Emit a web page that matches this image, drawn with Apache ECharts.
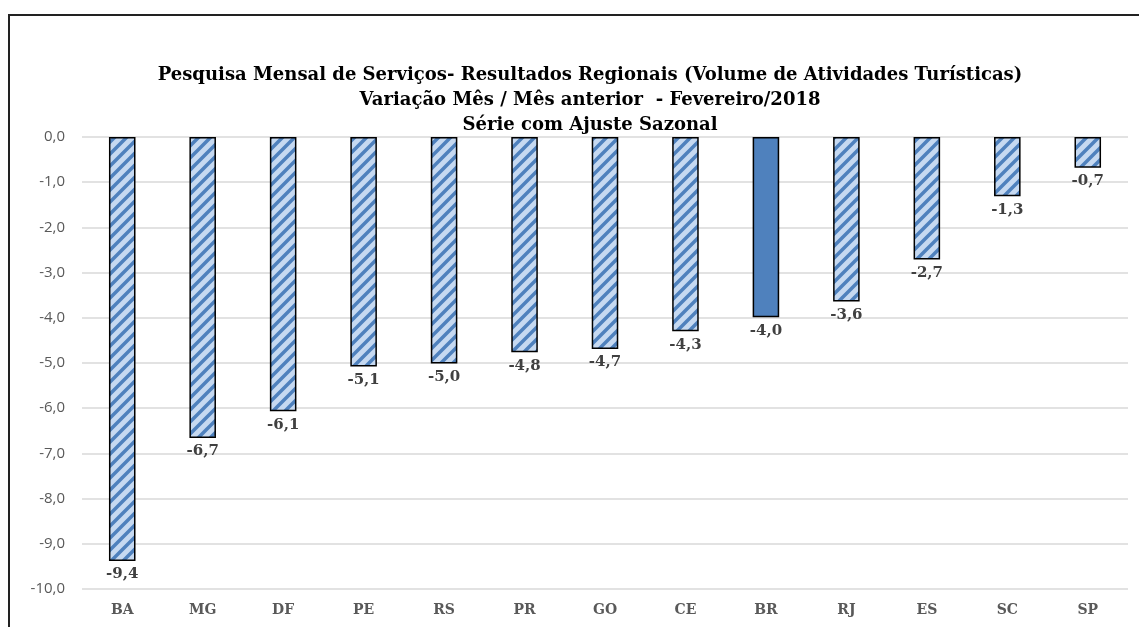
<!DOCTYPE html>
<html>
<head>
    <meta charset="utf-8">
    <title>PMS Regional</title>
    <script src="https://cdn.jsdelivr.net/npm/echarts@6/dist/echarts.min.js"></script>
    <style>
        html, body { margin: 0; padding: 0; background: #fff; }
        #container { width: 1139px; height: 627px; }
    </style>
</head>
<body>
<div id="container"></div>
<script>
    var categories = ["BA", "MG", "DF", "PE", "RS", "PR", "GO", "CE", "BR", "RJ", "ES", "SC", "SP"];
    var values = [-9.38, -6.66, -6.07, -5.08, -5.01, -4.76, -4.69, -4.30, -3.99, -3.64, -2.71, -1.31, -0.68];
    var yTicks = [0, -1, -2, -3, -4, -5, -6, -7, -8, -9, -10];
    var highlight = "BR";

    // striped fill like the excel "wide upward diagonal" pattern
    function stripes() {
        var s = 12;
        var c = document.createElement("canvas");
        c.width = s;
        c.height = s;
        var ctx = c.getContext("2d");
        ctx.fillStyle = "#c6d9f1";
        ctx.fillRect(0, 0, s, s);
        ctx.strokeStyle = "#4f81bd";
        ctx.lineWidth = 3.5;
        ctx.beginPath();
        // lines x + y = 0, s, 2s
        ctx.moveTo(-4, 4); ctx.lineTo(4, -4);
        ctx.moveTo(-4, s + 4); ctx.lineTo(s + 4, -4);
        ctx.moveTo(s - 4, s + 4); ctx.lineTo(s + 4, s - 4);
        ctx.stroke();
        return c;
    }

    function fmt(v) {
        return v.toFixed(1).replace(".", ",");
    }

    var pattern = { image: stripes(), repeat: "repeat" };
    var serif = "'DejaVu Serif', serif";

    var myChart = echarts.init(document.getElementById("container"));

    var option = {
        animation: false,
        title: {
            text: "Pesquisa Mensal de Serviços- Resultados Regionais (Volume de Atividades Turísticas)\nVariação Mês / Mês anterior  - Fevereiro/2018\nSérie com Ajuste Sazonal",
            left: 585,
            textAlign: "center",
            top: 58,
            textStyle: {
                fontFamily: serif,
                fontWeight: "bold",
                fontSize: 18,
                lineHeight: 25,
                color: "#000"
            }
        },
        graphic: [{
            type: "rect",
            shape: { x: 9, y: 15, width: 1140, height: 620 },
            style: { fill: null, stroke: "#222", lineWidth: 2 },
            silent: true
        }],
        grid: {
            left: 82,
            right: 11,
            top: 137,
            bottom: 38
        },
        xAxis: {
            type: "category",
            data: categories,
            axisLine: { show: false },
            axisTick: { show: false },
            axisLabel: {
                margin: 14,
                fontFamily: serif,
                fontWeight: "bold",
                fontSize: 14,
                color: "#595959"
            }
        },
        yAxis: {
            type: "value",
            min: -10,
            max: 0,
            interval: 1,
            axisLine: { show: false },
            axisTick: { show: false },
            splitLine: { lineStyle: { color: "#d9d9d9", width: 1.5 } },
            axisLabel: {
                margin: 17,
                fontFamily: "'Open Sans', sans-serif",
                fontSize: 15,
                color: "#595959",
                formatter: function (v) {
                    return yTicks.indexOf(v) >= 0 ? fmt(v) : "";
                }
            }
        },
        series: [{
            type: "bar",
            barWidth: "33%",
            data: values.map(function (v, i) {
                return {
                    value: v,
                    itemStyle: {
                        color: categories[i] === highlight ? "#4f81bd" : pattern
                    }
                };
            }),
            itemStyle: {
                borderColor: "#000",
                borderWidth: 1.5
            },
            label: {
                show: true,
                position: "bottom",
                distance: 6,
                fontFamily: serif,
                fontWeight: "bold",
                fontSize: 15,
                color: "#404040",
                formatter: function (p) {
                    return fmt(p.value);
                }
            }
        }]
    };

    myChart.setOption(option);
</script>
</body>
</html>
